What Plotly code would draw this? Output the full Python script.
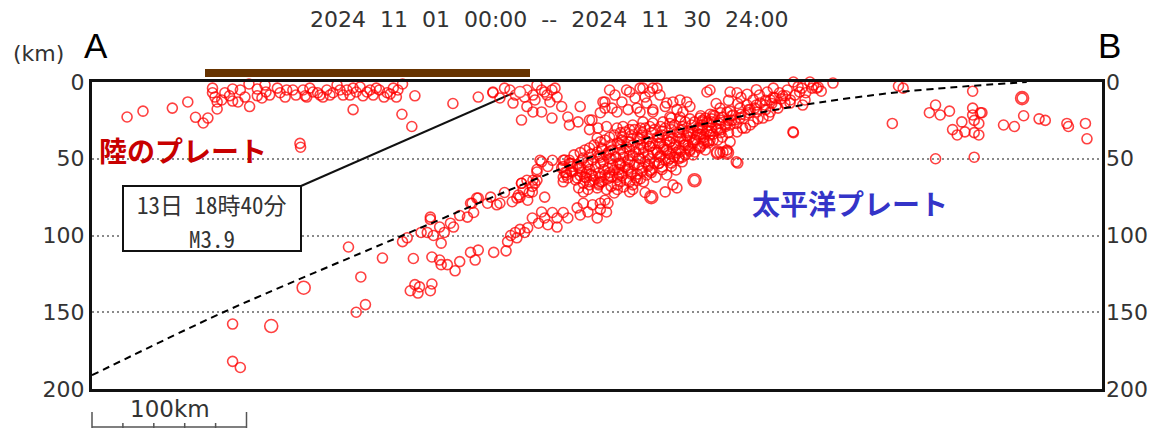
import plotly.graph_objects as go

# ---------------- data (distance along A-B in km, depth in km) ----------------
land_km = [22.7,33,52,62,67,72,75,78,78,81,81,84,89,91,91,94.5,101.6,102,107,107,
           112,112.6,120,121.7,126,130,136.6,139,143,147.6,152,156,158.6,162.5,165,169,173.5,178,182,186,
           191,195,197,201,169,200.6,207,209,233.6,250,259.5,134.6,135,141,146,149.5,154,160.5,167,171,
           175.4,180,184,189,193,198,138,132,125,115,110,96,99,86,79.6]
land_depth = [22.8,19,17,13,23,26.7,23.5,4,7,13,17.6,11.7,9,4.6,12.4,13,1.3,16,4.6,9,
              2,6.5,4,7,5.2,5.2,5.2,9.8,6.5,8.5,5.2,7,2,8.5,5.2,4,3.3,6.5,8.5,5.2,
              7,4,9.8,1.3,18,21,29,9,14,9.8,7,40,42.5,4,7,9.8,8.5,5.2,8.5,6.5,
              9,5.2,4,9.8,7.8,5.2,9,8.5,9.8,8.5,10.4,5.2,9.8,7,9.8]

near_km = [259.5,264,270.5,281.5,285.4,291,294.5,297.7,301,272.5,281.5,285.4,291,297.7,278,304,308,314.6,309,
           267,274,288,293,299.7,286.7,280,296.4]
near_depth = [6.5,10.4,5.2,5.2,8.5,5.2,8.5,5.2,9.8,13.7,16,19.5,19.5,23.5,24.8,16,22.8,26,28,
              4,8.5,2,6.5,4,11.7,9.8,13]

lobe_km = [316,322,322,327.5,327,332,332,335,336.6,339.8,339.8,333,343.7,346,351.5,356.6,361,365.7,367.6,359,
           352.7,363,371,376,380.6,385,387,382.5,380.6,375,369.6,363,356.6,350,348,354.7,363,354.7,363,372,
           378.6,374,398,343,347,338.5,358,329,323.6,330.7]
lobe_depth = [16,24.8,31,30,36.5,13,17,5.2,17,19.5,30,29,29,5.2,10.4,4,6.5,4,8.5,13.7,
              17,19.5,16,13,11.7,13,16,19.5,22.8,23.5,26,26.7,26,28,6.5,4,4,19.5,18,13.7,
              18,22.8,6.5,13,18,8.5,9.8,20,24.8,13]

upper_km = [400,413,417.5,406.5,402,398,393.5,411,415,419.4,424,428,432,437,441,445,450,454,459.5,464.7,
            469,430.4,434.3,439,443,426,421,417.5,413,408.4,411,404.5,418,398,391.6,393.5,389,382,452,458,
            466,470,479.6,448.5,451.8,453.7,455,461.5,442,435.6,429,422.6,416,409.7,405,400,439,432.5,426,419.4,
            413,406.5,401,395,390,385.8,
            420,425,431,436,440,446,449,444,438,428,423,417,412,408,402,396,395,404,412,418,424,430,457,462,
            467,472,460]
upper_depth = [5.2,6.5,7,17,21.5,26,23.5,19.5,21.5,17,15,11.7,8.5,6.5,4,7,5.2,0,4,0,
               4,19.5,23.5,19.5,15,28,30,32.5,39,45.6,46,46,52.8,39,34.5,43,47.5,49,11.7,6.5,
               4,3.3,0.7,13.7,13.7,32.5,8.5,11.7,10.4,15,17,21.5,24.8,28,31,34.5,11.7,13.7,18,23.5,
               28,24.8,30,31,37.8,41,
               10,20,24,18,14,11,9,17,22,26,30,27,33,36,38,40,25,14,12,14,8,5,3,7,
               2,6,15]

core_km = [306,304,307,305, 312,314,311,313,315, 319,318,321,317,320,322,318,
           325,327,324,326,328,325,327, 332,330,333,331,334,332,330,333,
           338,340,337,339,341,338,336,340,338, 345,343,346,344,347,345,343,346,344,
           351,353,350,352,354,351,349,352,350, 358,356,359,357,360,358,356,359,357,
           364,366,363,365,367,364,362,365, 371,369,372,370,373,371,369,372,
           377,379,376,378,380,377,375,378, 384,382,385,383,386,384,382,
           390,392,389,391,393,390, 397,395,398,396,399,397, 403,401,404,402,405,
           310,316,323,329,335,342,348,355,361,367,374,380,386,393,336,342,348,354,360,366,372,378,384,
           328,335,341,347,353,361,367,374,380,387,394,400,407,410,414,420,425,430,436,441,447,
           309,310,308, 316,317,315,316,318, 322,323,321,322,324,322,321,
           329,330,328,329,331,329,328, 335,336,334,335,337,335,334,336,
           342,343,341,342,344,342,341,343,342,340, 348,349,347,348,350,348,347,349,348,
           355,356,354,355,357,355,354,356,355, 361,362,360,361,363,361,360,362,
           368,369,367,368,370,368,367,369, 374,375,373,374,376,374,373,375,
           381,382,380,381,383,381,380, 387,388,386,387,389,387, 394,395,393,394,396,
           400,401,399,400, 407,408,406,407, 413,414,412]
core_depth = [50.8,56,60.6,65, 47.5,54,58.6,63.8,69, 44.3,49.5,54,58.6,62.5,67,71.7,
              41,45.6,50.8,55.4,59.3,63.8,69, 37.8,43,47.5,52,56,60.6,65,70,
              34.5,39.7,44.3,48.9,52.8,57.3,62,67,72.3, 32.6,37.8,42.3,46,50.8,55.4,59.3,63.8,68.4,
              31,36,41,45.6,49.5,54,58.6,62.5,67, 30,34.5,39,43,47.5,52,56,60.6,65,
              31,36,39.7,44.3,48.9,52.8,57.3,62, 30,34.5,37.8,42.3,46,50.8,55.4,60.6,
              28,32.6,36.5,41,44.3,48.9,52.8,57.3, 26,31,35,39,43,47.5,52,
              26,30,33,37.8,41.7,45.6, 23.5,28,32,36,39.7,44.3, 22,26,30,34,37.8,
              53,56,60,49,45,41,39,37,42,40,39,36,33,34,50,54,48,44,54,46,44,46,41,
              66,61,60,57,60,58,53,50,50,45,42,38,33,29,25,21,18,15,12,10,9,
              53,58,62.5, 46,51,56,61,66, 43,47,52,57,61,65,70,
              39,44,48,53,57,62,67, 36,41,46,50,54,59,63,68,
              33,36,40,44,49,53,57,61,65,70, 31,35,39,44,48,52,56,60,65,
              30,33,37,41,46,50,54,58,63, 29,33,37,42,46,50,55,59,
              29,32,36,40,44,48,53,57, 27,31,35,39,43,47,51,55,
              25,29,33,37,41,45,49, 24,28,32,36,40,44, 22,26,30,34,38,
              21,24,28,32, 20,23,27,31, 19,22,25]

slab_km = [201,204,208,206,209,211,212,220,219,220, 225,226,230,235,238,245,248,250,260,268,
           217,221,226,225,228,232,234,219,219,238, 243,247,246,250,256,258,262,267,272,276,
           278,282,283,285,288,288,293,269,271,274, 277,280,282,275,285,289,291,293,295,298,
           301,301,305,308,314,316,318,321,324,327, 329,332,334,333,
           291,295,298,305,309,307,314,285.4,286.7,279,277,305,320,329,340,348,353,358,390,378.6,
           376,371,362,350,329,417,406.5,411,290,288,281.5,278,285,275,264,249,245,311,306,319,305,
           166,188,174,177,171,91,91,96,213]
slab_depth = [104,101.5,115,136,132,137.5,133.5,131.6,136,114, 116,119,119,123,117,111,116,109.5,111,110,
              98,100,105,94.5,98,92,94.5,88,89.5,87, 88,85,79,75.6,79,75,80,72,78,73.6,
              66,77,72,68,64,58.6,75,104,100,98, 96,98,95,101.5,88.6,92,84.7,88.6,93,85,
              88.6,94.5,85,88.6,82,86.6,79,84.7,80,88.6, 83,77,79,84.7,
              52,55,51,55,51,59,62.5,64,66,70,75,62,59,65,62,71.6,64,72,64,69,
              67,71.6,75,70,79,52,46,44.3,51,57,64,66,71.6,75.6,79,75.6,79,55,59,62,51,
              107.5,114.7,127,145,150,157.7,182,186,98]

right_km = [454,518,522,525,542,546,549,555,557,560,563,565,570,570,570,571,574,575,576,571,574,
            546,571,590,597,602,603,613,617,631,632,643,644]
right_depth = [33,27,2.6,4,20,15,21.5,19,31,34.5,26,32.5,6,17,21.5,25,27,20,20,33,34.5,
               50,49,28,29,10.5,22,24,25,27,29,27,37]

big_km = [137,116,411,405,390,362,602]
big_depth = [134,159,46,46,64,75,10.5]

event_km = [277]
event_depth = [6.5]

plate_km = [0,85,201,320,372,454,523,605]
plate_depth = [191,150,100,50,33,16,6.5,0]

depth_ticks = [0,50,100,150,200]
title_text = "2024\u00a0\u00a011\u00a0\u00a001\u00a0\u00a000:00\u00a0\u00a0--\u00a0\u00a02024\u00a0\u00a011\u00a0\u00a030\u00a0\u00a024:00"
event_label = ["13日\u00a018時40分", "M3.9"]
scale_km = 100

# ---------------- figure ----------------
# The page body has an 8px margin, so the figure is drawn 8px smaller and
# every reference pixel position is shifted by that offset.
OFF = 8
W, H = 1165 - OFF, 430 - OFF
L, R, T, B = 92, 1102, 82, 389          # plot frame in reference pixels
XMAX = (R - L) / 1.545                  # km shown across the section


def px(x):
    return (x - L) / (R - L)


def py(y):
    return (B - y) / (B - T)


all_km = land_km + near_km + lobe_km + upper_km + core_km + slab_km + right_km
all_depth = land_depth + near_depth + lobe_depth + upper_depth + core_depth + slab_depth + right_depth

fig = go.Figure()
fig.add_trace(go.Scatter(x=all_km, y=all_depth, mode='markers', cliponaxis=False, hoverinfo='skip',
                         marker=dict(symbol='circle-open', size=10, color='rgb(255,0,0)', opacity=0.75,
                                     line=dict(width=1.6))))
fig.add_trace(go.Scatter(x=big_km, y=big_depth, mode='markers', cliponaxis=False, hoverinfo='skip',
                         marker=dict(symbol='circle-open', size=13, color='rgb(255,0,0)', opacity=0.75,
                                     line=dict(width=1.6))))
fig.add_trace(go.Scatter(x=plate_km, y=plate_depth, mode='lines', hoverinfo='skip',
                         line=dict(color='black', width=2, dash='7px,5px', shape='spline', smoothing=0.8)))
fig.add_trace(go.Scatter(x=event_km, y=event_depth, mode='markers', cliponaxis=False, hoverinfo='skip',
                         marker=dict(symbol='circle', size=11, color='white',
                                     line=dict(color='rgba(255,60,60,0.9)', width=1.5))))
fig.add_trace(go.Scatter(x=[None], y=[None], yaxis='y2', showlegend=False, hoverinfo='skip'))

tickfont = dict(family='DejaVu Sans', size=22, color='#333')
fig.update_layout(
    template='none', width=W, height=H, showlegend=False,
    margin=dict(l=L - OFF, r=1165 - R, t=T - OFF, b=430 - B, pad=0),
    plot_bgcolor='white', paper_bgcolor='white',
    xaxis=dict(range=[0, XMAX], showticklabels=False, ticks='', showgrid=False, zeroline=False,
               showline=True, mirror=True, linecolor='#111', linewidth=3, fixedrange=True),
    yaxis=dict(range=[200, 0], tickvals=depth_ticks, ticks='', showgrid=True, gridcolor='#8a8a8a',
               gridwidth=2, griddash='2px,3px', zeroline=False, showline=True, mirror=True,
               linecolor='#111', linewidth=3, tickfont=tickfont, ticklabelstandoff=0),
    yaxis2=dict(range=[200, 0], overlaying='y', side='right', tickvals=depth_ticks, ticks='',
                showgrid=False, zeroline=False, showline=False, tickfont=tickfont, ticklabelstandoff=3),
)

shapes = []
# survey band above the section
shapes.append(dict(type='rect', xref='paper', yref='paper', x0=px(205), x1=px(530), y0=py(77), y1=py(69),
                   fillcolor='#663300', line=dict(width=0), layer='above'))
# leader line from label box to the event
shapes.append(dict(type='line', xref='x', yref='y', x0=(301 - L) / 1.545, y0=(186 - T) / 1.535,
                   x1=event_km[0] - 4.5, y1=event_depth[0] + 0.7, line=dict(color='#111', width=2),
                   layer='between'))
# label box
shapes.append(dict(type='rect', xref='paper', yref='paper', x0=px(123), x1=px(301), y0=py(251), y1=py(186),
                   fillcolor='white', line=dict(color='#111', width=2), layer='above'))
# scale bar (100 km, ticks every 20 km)
sx = lambda km: km / XMAX
shapes.append(dict(type='line', xref='paper', yref='paper', x0=sx(0), x1=sx(scale_km), y0=py(427), y1=py(427),
                   line=dict(color='#555', width=1.5)))
for k in range(0, scale_km + 1, 20):
    top = 412 if k in (0, scale_km) else 423
    shapes.append(dict(type='line', xref='paper', yref='paper', x0=sx(k), x1=sx(k), y0=py(428), y1=py(top),
                       line=dict(color='#555', width=1.5)))
fig.update_layout(shapes=shapes)


def label(text, x, y, size, color='#333', family='DejaVu Sans', xanchor='center', weight='normal'):
    return dict(text=text, x=px(x), y=py(y), xref='paper', yref='paper', showarrow=False,
                xanchor=xanchor, yanchor='middle',
                font=dict(family=family, size=size, color=color, weight=weight))


box_font = 'Noto Sans Mono CJK JP, Noto Sans CJK JP'
ann = [
    label(title_text, 549, 20, 22),
    label('A', 96, 46, 35, '#000', 'Liberation Sans'),
    label('B', 1109, 46, 35, '#000', 'Liberation Sans'),
    label('(km)', 38, 54, 22),
    label('陸のプレート', 97, 150, 28, '#c80000', 'Noto Sans CJK JP', 'left', 'bold'),
    label('太平洋プレート', 750, 203, 28, '#3434c8', 'Noto Sans CJK JP', 'left', 'bold'),
    label(event_label[0], 212, 203.5, 23, '#333', box_font),
    label(event_label[1], 212, 237.5, 23, '#333', box_font),
    label(f'{scale_km}km', 170, 409, 23),
]
fig.update_layout(annotations=ann)

fig.write_html("out.html")
